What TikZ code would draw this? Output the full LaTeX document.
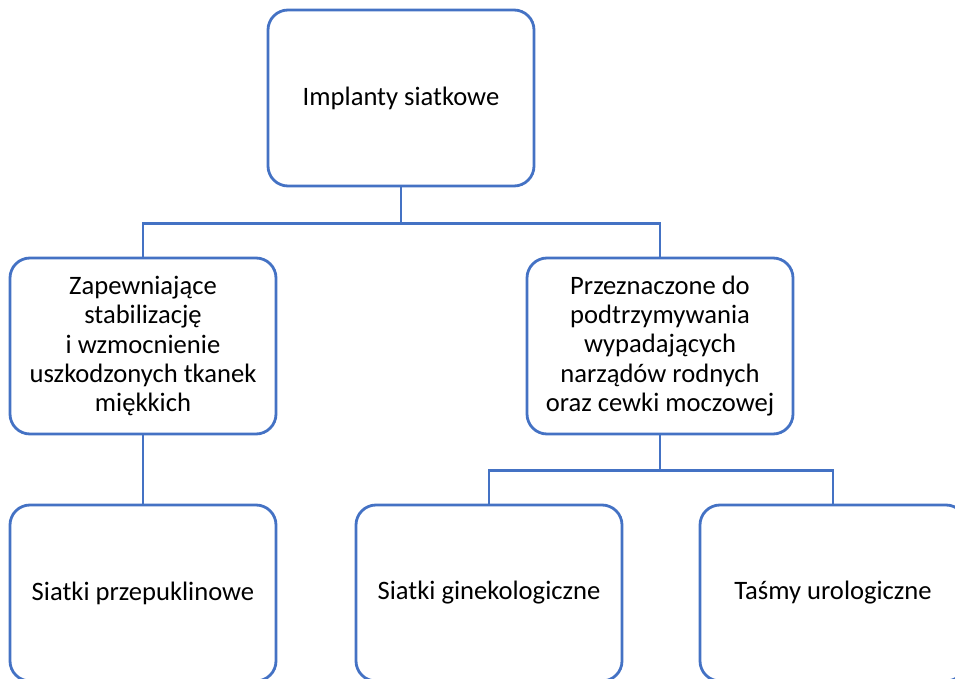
\documentclass[tikz,border=0pt]{standalone}
\usepackage{fontspec}
\setmainfont{Carlito}
\usepackage{tikz}
\definecolor{frame}{RGB}{68, 114, 196}

\begin{document}
\begin{tikzpicture}[x=1pt, y=-1pt,
    box/.style={draw=frame, line width=2.8pt, rounded corners=20pt,
      minimum width=266pt, minimum height=176pt, align=center,
      font=\fontsize{26.6}{29.2}\selectfont},
    link/.style={draw=frame, line width=2.8pt}]
  \useasboundingbox (0, 0) rectangle (955, 679);
  \clip (0, 0) rectangle (955, 679);

  \node[box] (implanty) at (401, 98) {Implanty siatkowe};

  \node[box] (wzmocnienie) at (143, 346)
    {Zapewniające\\stabilizację\\i wzmocnienie\\uszkodzonych tkanek\\miękkich};
  \node[box] (podtrzymanie) at (660, 346)
    {Przeznaczone do\\podtrzymywania\\wypadających\\narządów rodnych\\oraz cewki moczowej};

  \node[box] (przepuklinowe) at (143, 593) {Siatki przepuklinowe};
  \node[box] (ginekologiczne) at (489, 593) {Siatki ginekologiczne};
  \node[box] (urologiczne) at (833, 593) {Taśmy urologiczne};

  % tree lines
  \draw[link] (implanty.south) -- ++(0, 36) -| (wzmocnienie.north);
  \draw[link] (implanty.south) -- ++(0, 36) -| (podtrzymanie.north);
  \draw[link] (wzmocnienie.south) -- (przepuklinowe.north);
  \draw[link] (podtrzymanie.south) -- ++(0, 35) -| (ginekologiczne.north);
  \draw[link] (podtrzymanie.south) -- ++(0, 35) -| (urologiczne.north);

\end{tikzpicture}
\end{document}
